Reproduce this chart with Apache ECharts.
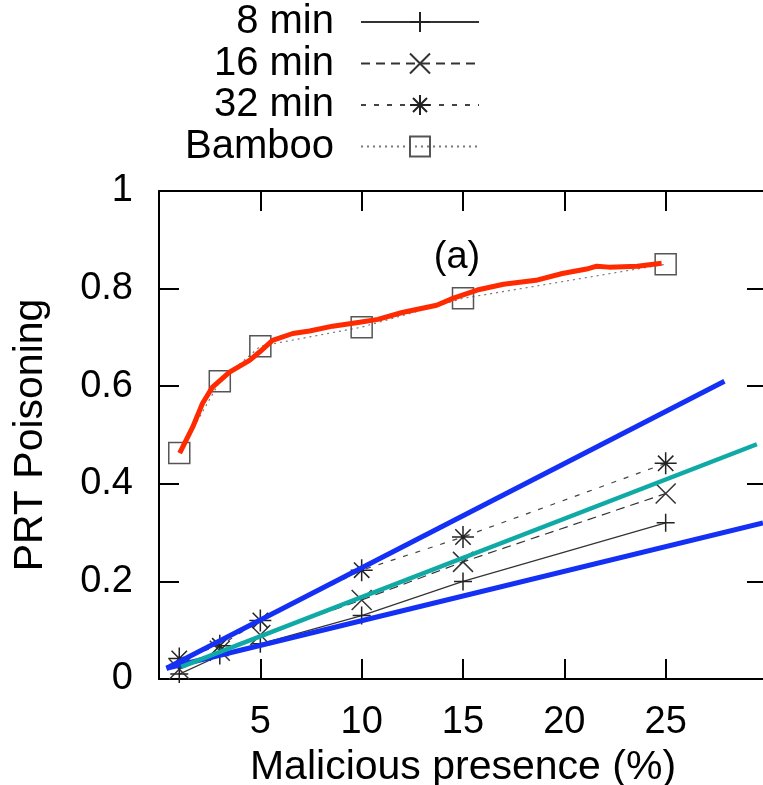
<!DOCTYPE html>
<html>
<head>
<meta charset="utf-8">
<script src="https://cdn.jsdelivr.net/npm/echarts@6/dist/echarts.min.js"></script>
<style>
  html, body { margin: 0; padding: 0; background: #fff; }
  #chart { width: 763px; height: 785px; }
</style>
</head>
<body>
<div id="chart"></div>
<script>
// Malicious presence (%) sampled for each run
const presence = [1, 3, 5, 10, 15, 25];

// PRT poisoning per refresh period
const min8 = [0.01, 0.048, 0.072, 0.13, 0.20, 0.32];
const min16 = [0.02, 0.058, 0.09, 0.162, 0.24, 0.38];
const min32 = [0.042, 0.068, 0.12, 0.223, 0.291, 0.442];
const bamboo = [0.463, 0.61, 0.682, 0.721, 0.78, 0.85];

// Fitted / model curves overlaid on the measurements
const modelCurveX = [1.02, 1.66, 2.15, 2.64, 3.48, 4.47, 4.96, 5.6, 6.6, 7.43, 8.57, 9.9, 10.8, 12.0, 13.7, 14.5, 15.7, 17.0, 18.6, 19.9, 21.1, 21.6, 22.2, 23.6, 24.8];
const modelCurveY = [0.463, 0.516, 0.565, 0.598, 0.629, 0.653, 0.67, 0.694, 0.708, 0.713, 0.723, 0.731, 0.737, 0.751, 0.766, 0.78, 0.797, 0.809, 0.817, 0.831, 0.84, 0.846, 0.844, 0.846, 0.852];
const upperBoundX = [0.37, 27.9];
const upperBoundY = [0.022, 0.61];
const lowerBoundX = [0.37, 29.8];
const lowerBoundY = [0.022, 0.32];
const meanFitX = [1.1, 29.5];
const meanFitY = [0.025, 0.481];

const xTicks = [5, 10, 15, 20, 25];

const pairs = (xs, ys) => xs.map((x, i) => [x, ys[i]]);

const FONT = "'Liberation Sans', Arial, Helvetica, sans-serif";
const plus = 'path://M0,5L10,5M5,0L5,10';
const cross = 'path://M0,0L10,10M10,0L0,10';
const star = 'path://M0,5L10,5M5,0L5,10M1.5,1.5L8.5,8.5M8.5,1.5L1.5,8.5';

function measured(name, ys, symbol, lineType, lineColor, markColor, size) {
  return {
    name: name,
    type: 'line',
    data: pairs(presence, ys),
    symbol: symbol,
    symbolSize: size,
    showAllSymbol: true,
    z: 2,
    lineStyle: { color: lineColor, width: 1.2, type: lineType },
    itemStyle: { color: 'rgba(0,0,0,0)', borderColor: markColor, borderWidth: 1.5 },
    emphasis: { disabled: true },
    animation: false
  };
}

function overlay(name, xs, ys, color, width) {
  return {
    name: name,
    type: 'line',
    data: pairs(xs, ys),
    showSymbol: false,
    symbol: 'none',
    z: 5,
    lineStyle: { color: color, width: width },
    emphasis: { disabled: true },
    animation: false
  };
}

const chart = echarts.init(document.getElementById('chart'), null, { renderer: 'canvas' });

const axisLine = { show: true, onZero: false, lineStyle: { color: '#000', width: 2 } };
const axisTick = { show: true, inside: true, length: 20, lineStyle: { color: '#000', width: 2 } };

chart.setOption({
  backgroundColor: '#fff',
  animation: false,
  grid: { left: 159, width: 608, top: 191, height: 488, containLabel: false, outerBoundsMode: 'none' },
  legend: {
    orient: 'vertical',
    right: 283,
    top: 2,
    padding: 0,
    align: 'right',
    itemWidth: 118,
    itemHeight: 25,
    itemGap: 1.5,
    selectedMode: false,
    data: ['8 min', '16 min', '32 min', 'Bamboo'],
    textStyle: { fontFamily: FONT, fontSize: 40, color: '#000', lineHeight: 40, padding: [0, 22, 0, 0] }
  },
  graphic: [{
    type: 'text',
    x: 457, y: 258,
    style: { text: '(a)', fontFamily: FONT, fontSize: 38, fill: '#000', align: 'center', verticalAlign: 'middle' }
  }],
  xAxis: [{
    type: 'value', position: 'bottom', min: 0, max: 30, interval: 5,
    axisLine: axisLine, axisTick: axisTick, splitLine: { show: false },
    axisLabel: {
      margin: 25, fontFamily: FONT, fontSize: 38, color: '#000',
      formatter: v => (xTicks.indexOf(v) >= 0 ? String(v) : '')
    },
    name: 'Malicious presence (%)', nameLocation: 'middle', nameGap: 62,
    nameTextStyle: { fontFamily: FONT, fontSize: 41, color: '#000' }
  }, {
    type: 'value', position: 'top', min: 0, max: 30, interval: 5,
    axisLine: axisLine, axisTick: axisTick, splitLine: { show: false },
    axisLabel: { show: false }
  }],
  yAxis: [{
    type: 'value', position: 'left', min: 0, max: 1, interval: 0.2,
    axisLine: axisLine, axisTick: axisTick, splitLine: { show: false },
    axisLabel: { margin: 26, fontFamily: FONT, fontSize: 38, color: '#000' },
    name: 'PRT Poisoning', nameLocation: 'middle', nameGap: 108, nameRotate: 90,
    nameTextStyle: { fontFamily: FONT, fontSize: 41, color: '#000' }
  }, {
    type: 'value', position: 'right', min: 0, max: 1, interval: 0.2,
    axisLine: axisLine, axisTick: axisTick, splitLine: { show: false },
    axisLabel: { show: false }
  }],
  series: [
    measured('8 min', min8, plus, 'solid', '#333', '#222', 18),
    measured('16 min', min16, cross, [9, 6], '#333', '#333', 20),
    measured('32 min', min32, star, [5, 8], '#444', '#222', 22),
    measured('Bamboo', bamboo, 'rect', [2, 4], '#777', '#555', 21),
    overlay('model', modelCurveX, modelCurveY, '#ff2a00', 5),
    overlay('upper bound', upperBoundX, upperBoundY, '#1430f5', 5),
    overlay('lower bound', lowerBoundX, lowerBoundY, '#1430f5', 5),
    overlay('mean fit', meanFitX, meanFitY, '#0faaa5', 4.5)
  ]
});
</script>
</body>
</html>
